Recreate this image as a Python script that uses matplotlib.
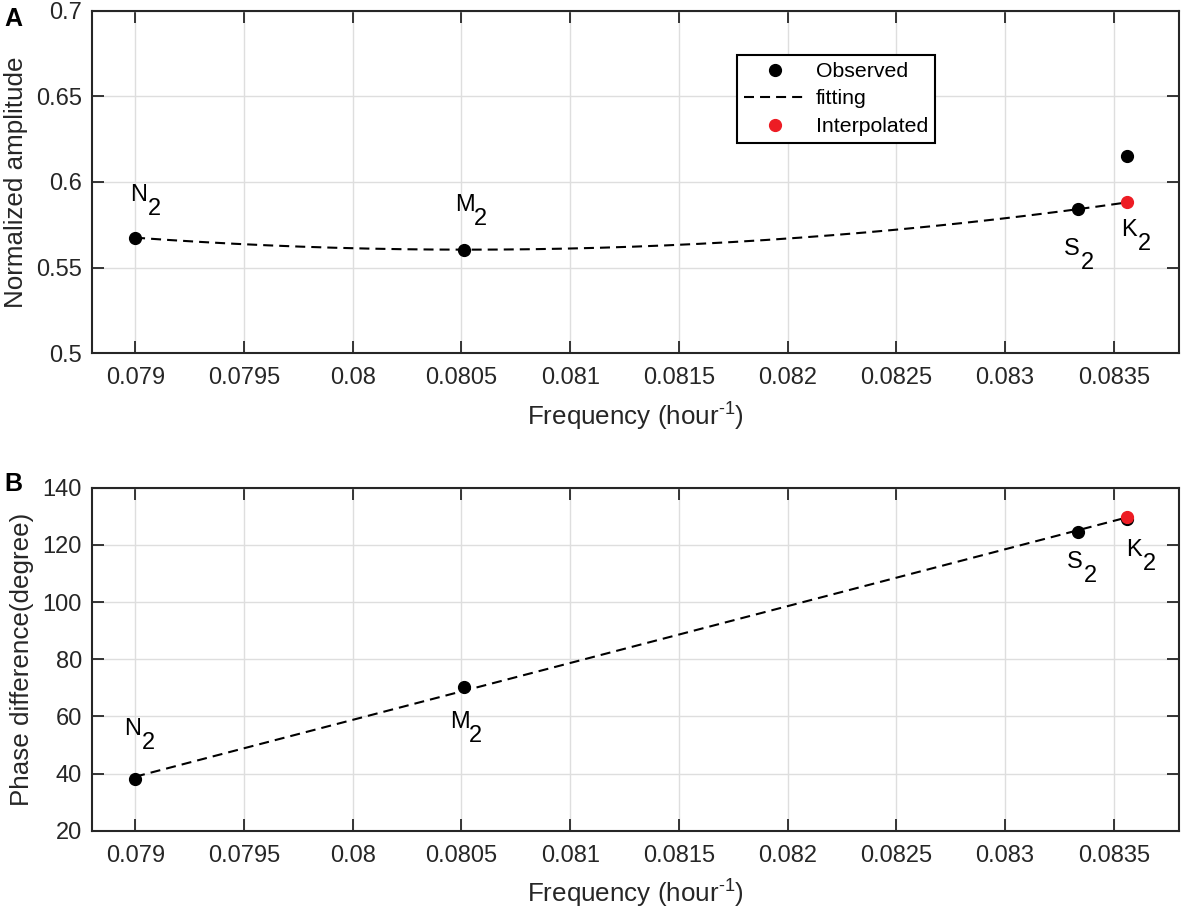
import numpy as np
import matplotlib
matplotlib.use("Agg")
import matplotlib.pyplot as plt

plt.rcParams['font.family'] = ['Liberation Sans', 'DejaVu Sans']
plt.rcParams['mathtext.fontset'] = 'custom'
plt.rcParams['mathtext.rm'] = 'Liberation Sans'
plt.rcParams['mathtext.it'] = 'Liberation Sans'

# ---- data ----
constituents = ['N', 'M', 'S', 'K']
subscripts = ['2', '2', '2', '2']
freq = [0.0789992, 0.0805114, 0.0833333, 0.0835615]   # cycles per hour
amp_observed = [0.5675, 0.5605, 0.5841, 0.6154]
phase_observed = [38.0, 70.3, 124.6, 128.9]
fit_index = [0, 1, 2]          # constituents used for fitting
amp_fit_degree = 2
phase_fit_degree = 1

xticks = [0.079, 0.0795, 0.08, 0.0805, 0.081, 0.0815, 0.082, 0.0825, 0.083, 0.0835]
xtick_labels = ['0.079', '0.0795', '0.08', '0.0805', '0.081', '0.0815', '0.082', '0.0825', '0.083', '0.0835']
amp_yticks = [0.5, 0.55, 0.6, 0.65, 0.7]
amp_ytick_labels = ['0.5', '0.55', '0.6', '0.65', '0.7']
phase_yticks = [20, 40, 60, 80, 100, 120, 140]
phase_ytick_labels = ['20', '40', '60', '80', '100', '120', '140']

FS = 17          # tick labels
FL = 18.7        # axis labels
FLEG = 15.3      # legend
FT = 17          # point labels
RED = '#ed1c24'
DARK = '#262626'

fig = plt.figure(figsize=(11.84, 9.17), dpi=100)
axA = fig.add_axes([0.0775, 0.6147, 0.9183, 0.3737])
axB = fig.add_axes([0.0775, 0.0941, 0.9183, 0.3741])


def style(ax, yticks, ylabels, ylim):
    ax.set_xlim(0.0788, 0.0838)
    ax.set_ylim(*ylim)
    ax.set_xticks(xticks)
    ax.set_xticklabels(xtick_labels)
    ax.set_yticks(yticks)
    ax.set_yticklabels(ylabels)
    ax.grid(True, color='#dedede', linewidth=1.0)
    ax.set_axisbelow(True)
    ax.tick_params(direction='in', length=8.5, width=1.3, top=True, right=True,
                   labelsize=FS, color=DARK, labelcolor=DARK)
    ax.tick_params(axis='x', pad=10)
    ax.tick_params(axis='y', pad=7)
    for s in ax.spines.values():
        s.set_linewidth(1.5)
        s.set_color(DARK)
    ax.set_xlabel(r'Frequency (hour$^{\text{-1}}$)', fontsize=FL, color=DARK, labelpad=8)


def draw(ax, values, deg, letter_offsets):
    xf = np.array(freq)[fit_index]
    yf = np.array(values)[fit_index]
    coef = np.polyfit(xf, yf, deg)
    xx = np.linspace(freq[0], freq[3], 300)
    ax.plot(xx, np.polyval(coef, xx), linestyle=(0, (4.8, 2.9)), color='black',
            linewidth=1.5, label='fitting', zorder=3)
    ax.plot(freq, values, 'o', color='black', markersize=8.5, label='Observed', zorder=4)
    yk = np.polyval(coef, freq[3])
    ax.plot([freq[3]], [yk], 'o', color=RED, markersize=8.5,
            label='Interpolated', zorder=5)
    for i, name in enumerate(constituents):
        y = values[i] if i < 3 else yk
        dx, dy = letter_offsets[i]
        ax.annotate(name, (freq[i], y), xytext=(dx, dy),
                    textcoords='offset pixels', ha='center', va='center',
                    fontsize=FT, color='black')
        ax.annotate(subscripts[i], (freq[i], y), xytext=(dx + 15.5, dy - 14),
                    textcoords='offset pixels', ha='center', va='center',
                    fontsize=FT, color='black')


style(axA, amp_yticks, amp_ytick_labels, (0.5, 0.7))
axA.set_ylabel('Normalized amplitude', fontsize=FL, color=DARK, labelpad=6)
draw(axA, amp_observed, amp_fit_degree,
     [(3.5, 43), (0.6, 44.2), (-6, -40), (2, -27.3)])

style(axB, phase_yticks, phase_ytick_labels, (20, 140))
axB.set_ylabel('Phase difference(degree)', fontsize=FL, color=DARK, labelpad=6)
draw(axB, phase_observed, phase_fit_degree,
     [(-2.3, 50.1), (-4.4, -35.5), (-2.8, -30.8), (7.2, -33.1)])

h, l = axA.get_legend_handles_labels()
order = [l.index('Observed'), l.index('fitting'), l.index('Interpolated')]
leg = axA.legend([h[i] for i in order], [l[i] for i in order], loc='upper left',
                 bbox_to_anchor=(0.5933, 0.8707), borderaxespad=0, fancybox=False,
                 edgecolor='black', framealpha=1, fontsize=FLEG, handlelength=2.96,
                 handletextpad=0.42, borderpad=0.33, labelspacing=0.4)
leg.get_frame().set_linewidth(1.5)

fig.text(0.0034, 0.979, 'A', fontsize=18, fontweight='bold', ha='left', va='center')
fig.text(0.0034, 0.4722, 'B', fontsize=18, fontweight='bold', ha='left', va='center')

fig.savefig('out.png', dpi=100)
